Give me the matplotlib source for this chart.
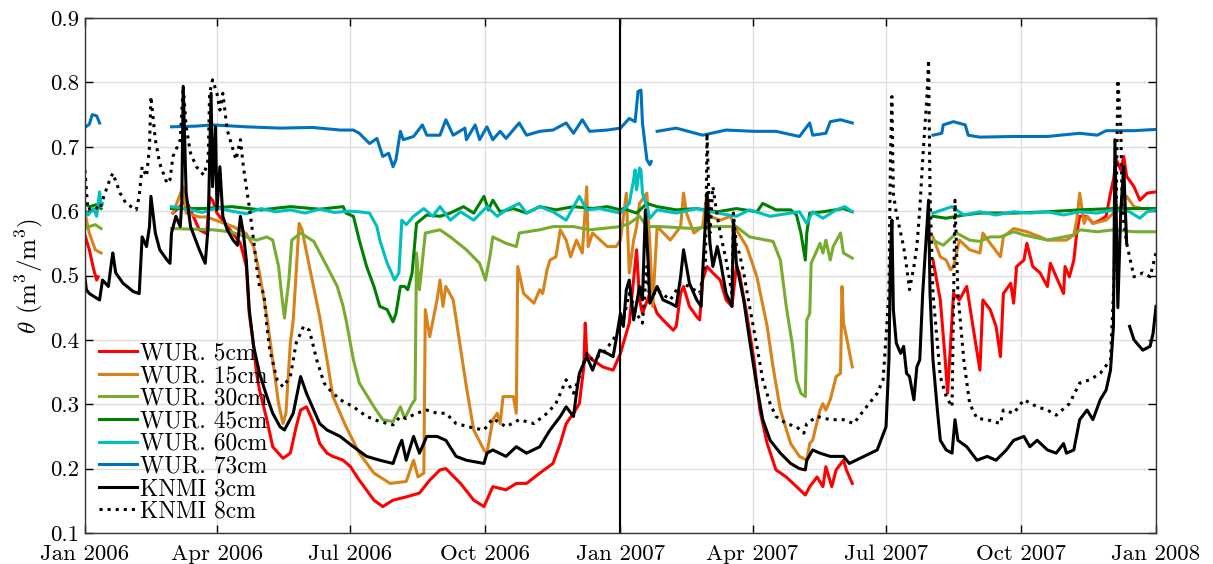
import numpy as np
import matplotlib
matplotlib.use("Agg")
import matplotlib.pyplot as plt
import matplotlib.dates as mdates

nan = np.nan
plt.rcParams['font.family'] = ['cmr10', 'DejaVu Serif']
plt.rcParams['mathtext.fontset'] = 'cm'
plt.rcParams['axes.formatter.use_mathtext'] = True

start = np.datetime64('2006-01-01')

# (day since 1 Jan 2006, theta)
wur_5 = [(0, .563), (3, .540), (6, .509), (8, .493), (9, .498), (30, nan),
         (60, .597), (69, .617), (78, .571), (83, .565), (85, .622), (87, .617), (90, .597), (101, .565),
         (106, .550), (110, .514), (112, .441), (115, .390), (117, .348), (119, .322), (124, .276),
         (128, .234), (135, .216), (140, .224), (144, .265), (147, .291), (151, .296), (156, .270),
         (160, .239), (165, .224), (169, .219), (176, .213), (181, .203), (187, .182), (197, .151),
         (203, .141), (210, .151), (219, .156), (228, .162), (235, .182), (242, .198), (246, .200),
         (256, .177), (265, .151), (272, .141), (278, .172), (287, .167), (294, .177), (301, .177),
         (310, .193), (319, .208), (324, .239), (328, .270), (333, .286), (337, .301), (340, .358),
         (341, .426), (342, .379), (346, .369), (353, .358), (360, .353), (365, .379), (367, .395),
         (371, .426), (376, .540), (378, .462), (380, .441), (385, .472), (390, .441), (394, .431),
         (401, .415), (403, .421), (406, .472), (408, .483), (412, .452), (417, .436), (419, .431),
         (421, .493), (424, .514), (428, .504), (433, .493), (437, .462), (441, .452), (444, .514),
         (446, .504), (451, .441), (456, .369), (460, .291), (465, .239), (471, .198), (478, .187),
         (485, .172), (491, .159), (494, .172), (499, .187), (503, .172), (505, .203), (509, .172),
         (512, .198), (517, .213), (519, .198), (523, .177), (550, nan),
         (578, .524), (583, .462), (586, .379), (588, .317), (592, .472), (596, .462), (601, .483),
         (606, .410), (610, .353), (612, .462), (617, .447), (621, .421), (624, .374), (626, .472),
         (631, .488), (633, .457), (635, .514), (640, .524), (642, .550), (646, .514), (651, .504),
         (656, .483), (658, .519), (662, .498), (667, .472), (668, .514), (671, .498), (674, .524),
         (676, .566), (678, .592), (683, .592), (687, .581), (692, .586), (696, .592), (699, .628),
         (701, .649), (703, .680), (706, .664), (708, .685), (710, .654), (715, .638), (719, .617),
         (724, .628), (730, .630)]

wur_15 = [(0, .597), (3, .566), (7, .540), (11, .535), (30, nan),
          (60, .597), (67, .638), (69, .597), (78, .591), (83, .591), (101, .576), (110, .565),
          (115, .545), (119, .504), (124, .436), (128, .369), (132, .301), (135, .270), (137, .286),
          (140, .395), (142, .431), (146, .581), (148, .571), (153, .514), (160, .436), (165, .369),
          (169, .312), (178, .265), (187, .224), (197, .193), (208, .177), (219, .180), (224, .213),
          (227, .187), (231, .193), (232, .447), (235, .405), (240, .462), (242, .493), (244, .452),
          (246, .483), (251, .462), (260, .327), (265, .260), (272, .229), (274, .224), (278, .276),
          (281, .286), (283, .270), (285, .312), (292, .312), (294, .286), (295, .514), (299, .472),
          (306, .457), (310, .478), (312, .472), (315, .509), (317, .524), (321, .529), (324, .571),
          (328, .555), (331, .529), (335, .555), (339, .535), (342, .638), (343, .545), (346, .566),
          (356, .545), (362, .545), (365, .555), (369, .628), (371, .504), (374, .555), (376, .576),
          (378, .612), (383, .628), (385, .550), (387, .452), (390, .576), (399, .555), (406, .576),
          (408, .628), (410, .597), (415, .566), (421, .576), (424, .628), (426, .592), (433, .586),
          (440, .592), (444, .571), (451, .545), (458, .498), (465, .421), (469, .358), (474, .291),
          (481, .239), (487, .219), (492, .213), (494, .239), (496, .244), (501, .291), (503, .301),
          (505, .291), (508, .307), (512, .343), (515, .348), (516, .483), (517, .426), (519, .405),
          (523, .358), (550, nan),
          (578, .560), (583, .529), (587, .524), (590, .509), (592, .514), (596, .555), (603, .540),
          (610, .535), (612, .566), (617, .550), (624, .529), (626, .560), (633, .573), (642, .568),
          (651, .560), (656, .555), (669, .555), (674, .563), (676, .586), (678, .628), (681, .581),
          (683, .592), (687, .581), (696, .586), (701, .597), (706, .607), (710, .623), (715, .607),
          (721, .604), (730, .604)]

wur_30 = [(0, .573), (3, .576), (7, .579), (11, .573), (30, nan),
          (59, .573), (87, .571), (99, .568), (106, .563), (117, .555), (124, .560), (128, .555),
          (132, .514), (134, .472), (136, .434), (139, .493), (141, .555), (147, .566), (156, .553),
          (165, .514), (172, .483), (176, .452), (178, .431), (183, .369), (187, .333), (197, .296),
          (203, .276), (210, .273), (215, .296), (218, .278), (223, .301), (225, .307), (226, .535),
          (228, .478), (232, .566), (242, .571), (249, .560), (260, .540), (269, .519), (273, .493),
          (276, .529), (278, .560), (287, .550), (294, .545), (296, .566), (310, .571), (319, .576),
          (333, .576), (344, .571), (365, .576), (371, .581), (378, .592), (383, .576), (392, .576),
          (415, .573), (426, .576), (444, .576), (453, .560), (469, .553), (474, .524), (478, .452),
          (482, .395), (485, .338), (488, .317), (491, .312), (492, .431), (494, .441), (495, .519),
          (501, .550), (503, .535), (505, .555), (508, .524), (510, .545), (515, .566), (517, .535),
          (523, .527), (550, nan),
          (578, .555), (585, .547), (594, .566), (603, .555), (610, .553), (617, .560), (624, .560),
          (633, .568), (640, .563), (656, .555), (674, .563), (678, .571), (690, .568), (701, .571),
          (715, .568), (730, .568)]

wur_45 = [(0, .612), (3, .607), (8, .610), (11, .604), (30, nan),
          (59, .604), (80, .604), (100, .607), (120, .602), (140, .607), (160, .603), (176, .607),
          (178, .597), (183, .592), (187, .555), (192, .514), (197, .483), (201, .452), (206, .447),
          (210, .428), (212, .441), (215, .483), (218, .483), (220, .478), (223, .504), (225, .555),
          (226, .581), (233, .594), (242, .592), (249, .597), (258, .607), (265, .597), (272, .623),
          (275, .602), (278, .617), (283, .599), (292, .604), (301, .597), (310, .607), (321, .602),
          (333, .607), (346, .604), (356, .607), (365, .602), (367, .604), (376, .597), (383, .612),
          (390, .607), (403, .602), (417, .604), (431, .599), (444, .604), (458, .599), (462, .612),
          (471, .602), (481, .602), (485, .594), (488, .566), (491, .524), (492, .566), (494, .597),
          (503, .599), (517, .604), (523, .599), (550, nan),
          (578, .592), (587, .589), (599, .594), (610, .597), (633, .597), (656, .599), (678, .602),
          (701, .604), (730, .604)]

wur_60 = [(0, .602), (2, .594), (6, .604), (8, .592), (10, .630), (11, .607), (12, .612), (30, nan),
          (59, .607), (70, .603), (80, .598), (90, .605), (100, .600), (110, .596), (120, .604),
          (130, .599), (140, .602), (150, .597), (160, .603), (170, .598), (180, .600), (187, .599),
          (194, .597), (199, .576), (201, .555), (206, .519), (209, .504), (211, .493), (214, .504),
          (215, .545), (216, .586), (219, .579), (224, .592), (231, .604), (237, .592), (242, .607),
          (249, .586), (256, .599), (265, .586), (274, .607), (281, .592), (287, .602), (296, .612),
          (301, .597), (310, .607), (319, .599), (328, .586), (333, .607), (337, .623), (342, .602),
          (351, .604), (365, .597), (367, .602), (371, .612), (374, .649), (375, .664), (376, .633),
          (378, .667), (379, .664), (380, .628), (383, .607), (385, .589), (390, .602), (403, .597),
          (417, .604), (431, .597), (444, .592), (453, .602), (467, .592), (481, .597), (487, .599),
          (492, .581), (496, .599), (503, .589), (512, .602), (518, .607), (523, .599), (550, nan),
          (578, .597), (587, .604), (591, .607), (599, .594), (610, .599), (621, .594), (633, .599),
          (644, .597), (656, .599), (667, .594), (678, .599), (690, .597), (701, .602), (712, .599),
          (719, .589), (724, .599), (730, .602)]

wur_73 = [(0, .730), (3, .735), (5, .750), (8, .748), (10, .737), (30, nan),
          (59, .731), (75, .732), (87, .734), (110, .731), (133, .729), (155, .730), (174, .726),
          (183, .726), (187, .721), (194, .705), (199, .713), (203, .685), (207, .690), (210, .669),
          (212, .680), (215, .724), (217, .711), (224, .716), (230, .734), (233, .718), (242, .718),
          (246, .742), (251, .718), (259, .729), (260, .711), (266, .734), (269, .711), (274, .731),
          (278, .711), (283, .724), (287, .713), (296, .737), (301, .718), (310, .724), (319, .726),
          (328, .737), (333, .721), (339, .742), (344, .724), (356, .726), (365, .729), (371, .744),
          (375, .739), (377, .786), (379, .788), (380, .737), (383, .680), (385, .672), (386, .677),
          (388, nan),
          (390, .724), (403, .729), (421, .718), (437, .726), (456, .724), (471, .724), (487, .716),
          (494, .737), (496, .718), (505, .721), (508, .739), (515, .742), (523, .737), (550, nan),
          (578, .718), (584, .721), (585, .734), (592, .739), (600, .734), (602, .718), (610, .715),
          (633, .716), (656, .716), (678, .721), (690, .718), (696, .725), (715, .725), (730, .727)]

knmi_3 = [(0, .498), (1, .478), (3, .472), (10, .462), (12, .493), (16, .483), (18, .519), (19, .535),
          (21, .504), (26, .488), (33, .475), (37, .472), (39, .560), (42, .545), (44, .576), (45, .623),
          (48, .566), (51, .540), (56, .524), (58, .519), (59, .566), (62, .592), (65, .576), (66, .612),
          (67, .794), (69, .628), (72, .576), (78, .540), (82, .519), (84, .576), (85, .680), (86, .783),
          (87, .638), (89, .731), (90, .602), (92, .669), (94, .592), (97, .571), (101, .555),
          (104, .547), (106, .592), (108, .566), (110, .524), (112, .447), (115, .390), (119, .348),
          (124, .312), (128, .286), (133, .265), (136, .260), (142, .286), (147, .343), (151, .317),
          (156, .291), (160, .270), (165, .260), (174, .250), (183, .234), (192, .219), (201, .213),
          (210, .208), (214, .234), (216, .244), (219, .213), (224, .250), (228, .224), (233, .250),
          (240, .250), (246, .244), (253, .219), (260, .213), (272, .208), (274, .224), (278, .229),
          (287, .219), (294, .234), (301, .224), (310, .234), (317, .260), (324, .281), (328, .296),
          (333, .281), (335, .317), (337, .348), (342, .374), (346, .353), (351, .384), (356, .379),
          (360, .374), (362, .400), (365, .441), (367, .421), (369, .478), (371, .493), (374, .431),
          (376, .457), (378, .483), (380, .462), (382, .602), (384, .514), (385, .457), (390, .483),
          (394, .462), (399, .457), (403, .452), (406, .498), (408, .540), (410, .514), (412, .488),
          (417, .462), (420, .452), (421, .504), (424, .628), (426, .550), (428, .514), (431, .545),
          (433, .524), (435, .498), (437, .472), (441, .452), (442, .586), (444, .519), (449, .462),
          (453, .400), (458, .327), (462, .276), (467, .244), (474, .224), (481, .208), (487, .200),
          (491, .198), (492, .213), (496, .229), (501, .224), (508, .219), (517, .219), (521, .208),
          (531, .219), (540, .229), (546, .265), (548, .369), (549, .524), (550, .586), (551, .447),
          (553, .395), (556, .379), (558, .390), (560, .348), (562, .343), (565, .307), (567, .358),
          (569, .369), (571, .472), (575, .617), (576, .472), (578, .369), (581, .291), (583, .244),
          (587, .229), (591, .224), (593, .276), (595, .244), (601, .234), (608, .213), (615, .219),
          (621, .213), (628, .229), (633, .244), (640, .250), (644, .234), (649, .244), (656, .229),
          (662, .224), (667, .239), (669, .224), (674, .229), (678, .276), (683, .291), (687, .276),
          (692, .307), (696, .322), (699, .353), (701, .421), (702, .711), (704, .450), (706, .600),
          (708, .669), (710, .550), (711, nan),
          (712, .421), (715, .400), (721, .384), (726, .390), (728, .410), (730, .452)]

knmi_8 = [(0, .664), (2, .602), (7, .607), (10, .602), (12, .617), (16, .643), (19, .659), (24, .628),
          (28, .612), (35, .602), (37, .623), (39, .669), (42, .654), (44, .700), (45, .778), (48, .711),
          (51, .674), (56, .643), (58, .649), (60, .685), (62, .695), (65, .711), (66, .752), (67, .794),
          (69, .731), (72, .690), (76, .669), (81, .656), (84, .680), (85, .783), (87, .804), (90, .783),
          (92, .757), (94, .783), (97, .726), (101, .695), (103, .680), (106, .711), (108, .669),
          (110, .638), (112, .607), (115, .555), (117, .514), (119, .483), (122, .472), (124, .421),
          (126, .384), (131, .338), (135, .327), (140, .343), (144, .395), (149, .421), (153, .415),
          (158, .369), (163, .333), (167, .322), (174, .307), (183, .296), (192, .281), (201, .273),
          (210, .268), (215, .281), (219, .278), (226, .286), (233, .291), (240, .286), (246, .286),
          (253, .270), (265, .263), (272, .260), (278, .278), (287, .265), (296, .276), (306, .270),
          (315, .286), (321, .301), (328, .338), (333, .317), (337, .343), (342, .379), (346, .369),
          (353, .379), (360, .400), (365, .421), (367, .431), (371, .472), (376, .441), (380, .426),
          (383, .514), (385, .462), (390, .478), (399, .462), (406, .488), (412, .483), (419, .472),
          (423, .524), (424, .721), (426, .566), (428, .638), (431, .592), (433, .566), (437, .524),
          (441, .472), (442, .597), (444, .545), (446, .535), (449, .504), (453, .452), (458, .390),
          (462, .338), (467, .301), (471, .281), (478, .270), (485, .265), (490, .255), (492, .270),
          (499, .281), (508, .276), (517, .276), (524, .270), (531, .291), (540, .317), (544, .338),
          (548, .472), (549, .680), (550, .778), (551, .628), (553, .597), (556, .566), (558, .545),
          (560, .514), (562, .478), (565, .514), (567, .545), (569, .602), (571, .680), (574, .783),
          (575, .835), (576, .628), (578, .472), (581, .395), (583, .343), (587, .312), (591, .296),
          (593, .617), (595, .472), (599, .369), (603, .301), (608, .278), (615, .276), (624, .270),
          (626, .291), (633, .286), (640, .307), (649, .296), (656, .291), (662, .283), (671, .301),
          (678, .333), (685, .338), (692, .348), (699, .369), (701, .472), (703, .628), (704, .804),
          (706, .731), (707, .602), (710, .550), (715, .498), (721, .504), (726, .498), (730, .535)]

series = [
    ('WUR. 5cm', wur_5, '#ff0000', '-'),
    ('WUR. 15cm', wur_15, '#d9821a', '-'),
    ('WUR. 30cm', wur_30, '#77ac30', '-'),
    ('WUR. 45cm', wur_45, '#008000', '-'),
    ('WUR. 60cm', wur_60, '#00bfbf', '-'),
    ('WUR. 73cm', wur_73, '#0072bd', '-'),
    ('KNMI 3cm', knmi_3, '#000000', '-'),
    ('KNMI 8cm', knmi_8, '#000000', ':'),
]

fig = plt.figure(figsize=(12.13, 5.64), dpi=100)
ax = fig.add_axes([0.070, 0.055, 0.883, 0.913])

for label, data, color, ls in series:
    d = np.array(data, dtype=float)
    t = start + d[:, 0].astype(int).astype('timedelta64[D]')
    ax.plot(t, d[:, 1], color=color, ls=ls, lw=2.2, label=label)

ax.axvline(np.datetime64('2007-01-01'), color='black', lw=1.5)

ticks = [np.datetime64(s) for s in ['2006-01-01', '2006-04-01', '2006-07-01', '2006-10-01', '2007-01-01',
                                     '2007-04-01', '2007-07-01', '2007-10-01', '2008-01-01']]
ax.set_xticks(ticks)
ax.xaxis.set_major_formatter(mdates.DateFormatter('%b %Y'))
ax.set_xlim(ticks[0], ticks[-1])
ax.set_ylim(0.1, 0.9)
ax.set_yticks(np.arange(0.1, 0.91, 0.1))
ax.set_yticklabels(['%.1f' % v for v in np.arange(0.1, 0.91, 0.1)])

ax.grid(True, color='#dedede', lw=1.0)
ax.set_axisbelow(True)
ax.tick_params(direction='in', length=6, width=1, top=True, right=True, labelsize=16.5)
ax.tick_params(axis='x', pad=8)
ax.tick_params(axis='y', pad=4)
for sp in ax.spines.values():
    sp.set_color('#333333')
    sp.set_linewidth(1.0)

ax.set_ylabel(r'$\theta$ (m$^3$/m$^3$)', fontsize=18, labelpad=4)

ax.legend(loc='lower left', frameon=False, fontsize=17, handlelength=1.6, handletextpad=0.15,
          labelspacing=0.02, borderaxespad=0.0, borderpad=0.0, bbox_to_anchor=(0.013, 0.02))

fig.savefig('out.png', dpi=100)
